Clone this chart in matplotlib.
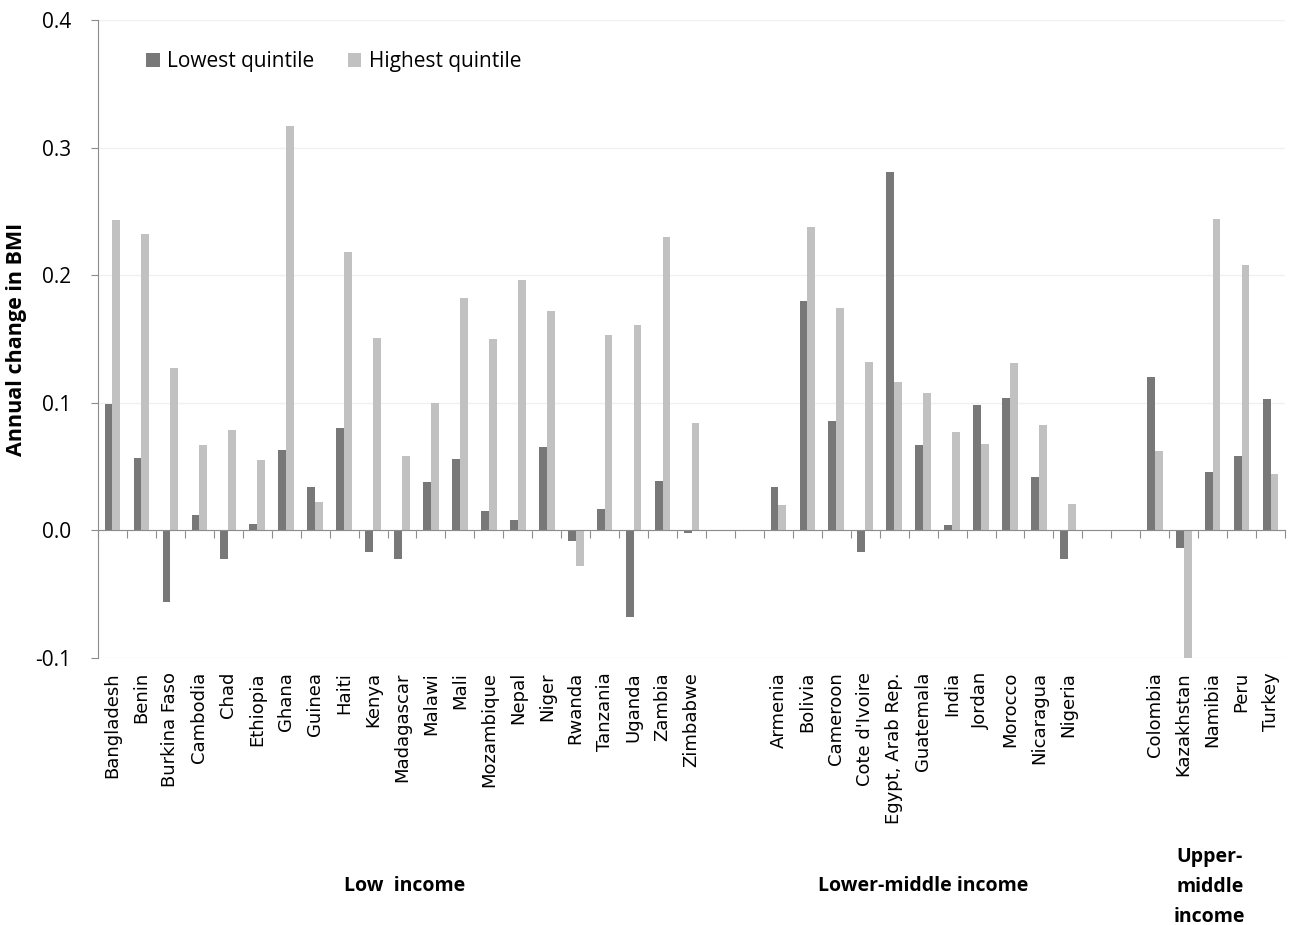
import numpy as np
import matplotlib.pyplot as plt
import matplotlib.transforms as mtransforms

plt.rcParams['font.family'] = ['Open Sans', 'DejaVu Sans']

groups = ["Low  income", "Lower-middle income", "Upper-\nmiddle\nincome"]

low_countries = ["Bangladesh", "Benin", "Burkina Faso", "Cambodia", "Chad", "Ethiopia",
                 "Ghana", "Guinea", "Haiti", "Kenya", "Madagascar", "Malawi", "Mali",
                 "Mozambique", "Nepal", "Niger", "Rwanda", "Tanzania", "Uganda",
                 "Zambia", "Zimbabwe"]
low_lowest = [0.099, 0.057, -0.056, 0.012, -0.022, 0.005, 0.063, 0.034, 0.080, -0.017,
              -0.022, 0.038, 0.056, 0.015, 0.008, 0.065, -0.008, 0.017, -0.068,
              0.039, -0.002]
low_highest = [0.243, 0.232, 0.127, 0.067, 0.079, 0.055, 0.317, 0.022, 0.218, 0.151,
               0.058, 0.100, 0.182, 0.150, 0.196, 0.172, -0.028, 0.153, 0.161,
               0.230, 0.084]

lmid_countries = ["Armenia", "Bolivia", "Cameroon", "Cote d'Ivoire", "Egypt, Arab Rep.",
                  "Guatemala", "India", "Jordan", "Morocco", "Nicaragua", "Nigeria"]
lmid_lowest = [0.034, 0.180, 0.086, -0.017, 0.281, 0.067, 0.004, 0.098, 0.104, 0.042, -0.022]
lmid_highest = [0.020, 0.238, 0.174, 0.132, 0.116, 0.108, 0.077, 0.068, 0.131, 0.083, 0.021]

umid_countries = ["Colombia", "Kazakhstan", "Namibia", "Peru", "Turkey"]
umid_lowest = [0.120, -0.014, 0.046, 0.058, 0.103]
umid_highest = [0.062, -0.102, 0.244, 0.208, 0.044]

yticks = [-0.1, 0.0, 0.1, 0.2, 0.3, 0.4]

DARK = '#787878'
LIGHT = '#c1c1c1'
AXCOL = '#8c8c8c'
gap = 2  # empty category slots between income groups

def main():
    fig = plt.figure(figsize=(12.91, 9.25), dpi=100)
    ax = fig.add_axes([0.0759, 0.2886, 0.9195, 0.6898])

    countries = [low_countries, lmid_countries, umid_countries]
    lowest = [low_lowest, lmid_lowest, umid_lowest]
    highest = [low_highest, lmid_highest, umid_highest]

    w = 0.27
    start = 0
    centers = []
    trans = mtransforms.blended_transform_factory(ax.transData, ax.transAxes)
    for cs, lo, hi in zip(countries, lowest, highest):
        x = np.arange(start, start + len(cs))
        ax.bar(x - w / 2, lo, width=w, color=DARK, zorder=3,
               label='Lowest quintile' if start == 0 else None)
        ax.bar(x + w / 2, hi, width=w, color=LIGHT, zorder=3,
               label='Highest quintile' if start == 0 else None)
        for xi, c in zip(x, cs):
            ax.text(xi, -0.022, c, rotation=90, ha='center', va='top',
                    fontsize=13, family='DejaVu Sans', transform=trans, color='black')
        centers.append(x.mean())
        start += len(cs) + gap
    nslots = start - gap

    ax.set_xlim(-0.5, nslots - 0.5)
    ax.set_ylim(-0.1, 0.4)
    ax.set_yticks(yticks)
    ax.set_yticklabels(['%.1f' % v for v in yticks], fontsize=15)
    ax.set_xticks(np.arange(nslots + 1) - 0.5)
    ax.set_xticklabels([])
    ax.tick_params(axis='x', length=6, color=AXCOL, direction='out')
    ax.tick_params(axis='y', length=5, color=AXCOL, direction='out', pad=14)
    ax.grid(axis='y', color='#f0f0f0', linewidth=1, zorder=0)

    for s in ['top', 'right']:
        ax.spines[s].set_visible(False)
    ax.spines['bottom'].set_position(('data', 0))
    ax.spines['bottom'].set_color(AXCOL)
    ax.spines['left'].set_color(AXCOL)
    ax.spines['bottom'].set_zorder(4)

    ax.set_ylabel('Annual change in BMI', fontsize=15.5, fontweight='bold', labelpad=6)

    # group labels
    tr = mtransforms.blended_transform_factory(ax.transData, fig.transFigure)
    ax.text(centers[0] + 0.1, 1 - 886 / 925, groups[0], transform=tr, ha='center',
            va='center', fontsize=14, fontweight='bold')
    ax.text(centers[1], 1 - 886 / 925, groups[1], transform=tr, ha='center',
            va='center', fontsize=14, fontweight='bold')
    ax.text(centers[2] - 0.1, 1 - 887 / 925, groups[2], transform=tr, ha='center',
            va='center', fontsize=14, fontweight='bold', linespacing=1.65)

    ax.legend(loc='upper left', bbox_to_anchor=(0.025, 0.98), ncol=2, frameon=False,
              fontsize=15, handlelength=0.65, handleheight=0.65, handletextpad=0.35,
              columnspacing=1.6)

    fig.savefig('out.png', dpi=100)


if __name__ == "__main__":
    main()
